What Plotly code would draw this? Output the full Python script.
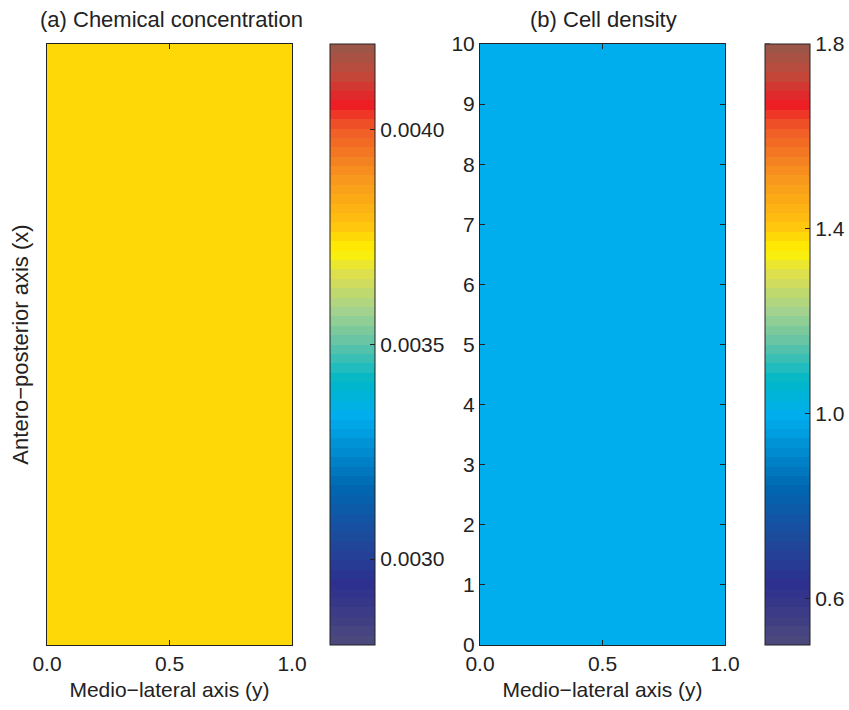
import plotly.graph_objects as go
import numpy as np

# ---- data ----
ml_axis = [0.0, 0.5, 1.0]                      # medio-lateral positions (y)
ap_axis = [0, 2, 4, 6, 8, 10]                  # antero-posterior positions (x)
chem_values = [[0.00375, 0.00375, 0.00375],
               [0.00375, 0.00375, 0.00375],
               [0.00375, 0.00375, 0.00375],
               [0.00375, 0.00375, 0.00375],
               [0.00375, 0.00375, 0.00375],
               [0.00375, 0.00375, 0.00375]]
cell_values = [[1.0, 1.0, 1.0],
               [1.0, 1.0, 1.0],
               [1.0, 1.0, 1.0],
               [1.0, 1.0, 1.0],
               [1.0, 1.0, 1.0],
               [1.0, 1.0, 1.0]]
chem_range = [0.0028, 0.0042]
cell_range = [0.5, 1.8]
chem_ticks = [0.0030, 0.0035, 0.0040]
cell_ticks = [0.6, 1.0, 1.4, 1.8]
x_ticks = [0.0, 0.5, 1.0]
x_ticklabels = ["0.0", "0.5", "1.0"]
y_ticks = list(range(0, 11))

# ---- discrete colormap ----
anchors = [
    (0.00, "#4d4a7d"),
    (0.10, "#2e2f8f"),
    (0.18, "#1d4b9c"),
    (0.26, "#0066b0"),
    (0.33, "#0090d4"),
    (0.38, "#00aeef"),
    (0.44, "#00b8c8"),
    (0.50, "#5fc3a8"),
    (0.56, "#a8d48a"),
    (0.62, "#e0e04a"),
    (0.655, "#fff200"),
    (0.70, "#ffc20e"),
    (0.78, "#f7941d"),
    (0.86, "#f05a28"),
    (0.90, "#ed1c24"),
    (0.95, "#c04a3a"),
    (1.00, "#95584a"),
]
def hex2rgb(h):
    h = h.lstrip("#")
    return [int(h[i:i+2], 16) for i in (0, 2, 4)]
pos = [a[0] for a in anchors]
cols = np.array([hex2rgb(a[1]) for a in anchors], dtype=float)
N = 64
cscale = []
for i in range(N):
    t = (i + 0.5) / N
    c = [int(round(np.interp(t, pos, cols[:, k]))) for k in range(3)]
    s = f"rgb({c[0]},{c[1]},{c[2]})"
    cscale.append([i / N, s])
    cscale.append([(i + 1) / N, s])

W, H = 849, 710
def px(x):
    return x / W
def py(y):
    return 1 - y / H

FAM = "Liberation Sans, Arial, sans-serif"
font = dict(family=FAM, size=21, color="#222")
tfont = dict(family=FAM, size=22, color="#222")

TOP, BOT = 44, 645
y0, y1 = py(BOT), py(TOP)
CB1, CB2, CBW = 330, 765, 45

fig = go.Figure()
fig.add_trace(go.Heatmap(
    x=ml_axis, y=ap_axis, z=chem_values, colorscale=cscale,
    zmin=chem_range[0], zmax=chem_range[1], xaxis="x", yaxis="y",
    colorbar=dict(x=px(CB1), xanchor="left", y=y0, yanchor="bottom",
                  len=(y1 - y0), lenmode="fraction", thickness=CBW, thicknessmode="pixels",
                  outlinewidth=1, outlinecolor="#222",
                  tickvals=chem_ticks, tickformat=".4f", ticks="inside", ticklen=5,
                  tickcolor="#222", tickfont=font, xpad=0, ypad=0),
))
fig.add_trace(go.Heatmap(
    x=ml_axis, y=ap_axis, z=cell_values, colorscale=cscale,
    zmin=cell_range[0], zmax=cell_range[1], xaxis="x2", yaxis="y2",
    colorbar=dict(x=px(CB2), xanchor="left", y=y0, yanchor="bottom",
                  len=(y1 - y0), lenmode="fraction", thickness=CBW, thicknessmode="pixels",
                  outlinewidth=1, outlinecolor="#222",
                  tickvals=cell_ticks, tickformat=".1f", ticks="inside", ticklen=5,
                  tickcolor="#222", tickfont=font, xpad=0, ypad=0),
))

# left-side inner ticks of colorbars, placed through each bar's value range
shapes = []
for cbx, ticks, rng in [(CB1, chem_ticks, chem_range), (CB2, cell_ticks, cell_range)]:
    for t in ticks:
        frac = (t - rng[0]) / (rng[1] - rng[0])
        yy = y0 + frac * (y1 - y0)
        shapes.append(dict(type="line", xref="paper", yref="paper",
                           x0=px(cbx), x1=px(cbx + 5), y0=yy, y1=yy,
                           line=dict(color="#222", width=1)))

axcommon = dict(showgrid=False, zeroline=False, showline=True, linecolor="#222",
                linewidth=1, mirror="ticks", ticklen=5, tickcolor="#222",
                automargin=False)
fig.update_layout(
    width=W, height=H, margin=dict(l=0, r=0, t=0, b=0, autoexpand=False),
    paper_bgcolor="white", plot_bgcolor="white", font=font,
    xaxis=dict(domain=[px(47), px(292)], range=[0, 1], tickvals=x_ticks,
               ticktext=x_ticklabels, anchor="y", ticks="inside", tickfont=font,
               title=dict(text="Medio\u2212lateral axis (y)", font=font, standoff=8), **axcommon),
    yaxis=dict(domain=[y0, y1], range=[0, 10], ticks="", showticklabels=False,
               anchor="x",
               title=dict(text="Antero\u2212posterior axis (x)", font=tfont, standoff=11), **axcommon),
    xaxis2=dict(domain=[px(480), px(725)], range=[0, 1], tickvals=x_ticks,
                ticktext=x_ticklabels, anchor="y2", ticks="inside", tickfont=font,
                title=dict(text="Medio\u2212lateral axis (y)", font=font, standoff=8), **axcommon),
    yaxis2=dict(domain=[y0, y1], range=[0, 10], tickvals=y_ticks, anchor="x2",
                ticks="inside", tickfont=font, **axcommon),
    shapes=shapes,
    annotations=[
        dict(text="(a) Chemical concentration", x=px(171), y=py(20), xref="paper",
             yref="paper", showarrow=False, font=tfont, xanchor="center", yanchor="middle"),
        dict(text="(b) Cell density", x=px(603), y=py(20), xref="paper",
             yref="paper", showarrow=False, font=tfont, xanchor="center", yanchor="middle"),
    ],
)
fig.write_html("out.html", config={"displayModeBar": False},
               post_script="document.body.style.margin='0';document.body.style.overflow='hidden';")
